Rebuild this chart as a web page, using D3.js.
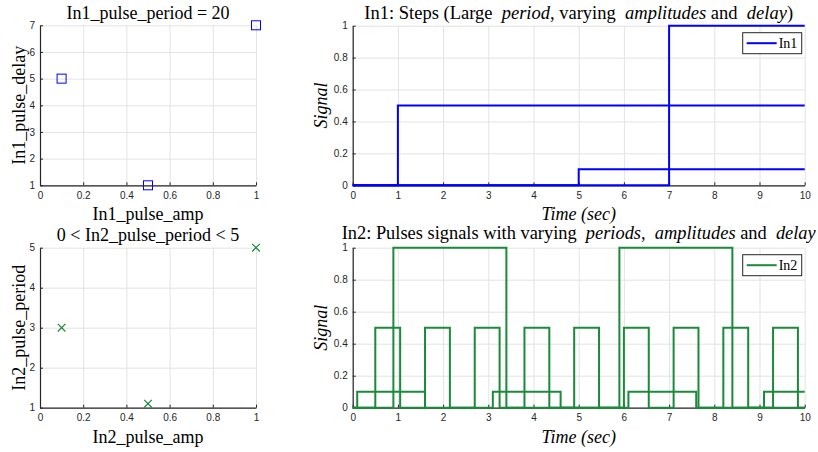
<!DOCTYPE html>
<html>
<head>
<meta charset="utf-8">
<script src="https://cdn.jsdelivr.net/npm/d3@7"></script>
<style>
  body { margin: 0; background: #fff; }
  .tick text { font-family: "Liberation Sans", Arial, sans-serif; font-size: 10px; fill: #262626; }
  .axis path, .axis line { stroke: #262626; }
  .grid line { stroke: #e3e3e3; }
  .grid path { display: none; }
  .serif { font-family: "Liberation Serif", "Times New Roman", serif; fill: #000; white-space: pre; }
</style>
</head>
<body>
<svg id="fig" width="818" height="452"></svg>
<script>
// scatter: pulse parameters
var in1Amp = [0.1, 0.5, 1];
var in1Delay = [5, 1, 7];
var in2Amp = [0.1, 0.5, 1];
var in2Period = [3, 1.1, 5];

// In1 step signals (time, value) pairs, step-after
var in1StepT = [[0, 1, 10], [0, 5, 10], [0, 7, 10]];
var in1StepV = [[0, 0.5, 0.5], [0, 0.1, 0.1], [0, 1, 1]];

// In2 pulse signals
var in2PulseT = [
  [0, 0.1, 1.6, 3.1, 4.6, 6.1, 7.6, 9.1, 10],
  [0, 0.5, 1.05, 1.6, 2.15, 2.7, 3.25, 3.8, 4.35, 4.9, 5.45, 6.0, 6.55, 7.1, 7.65, 8.2, 8.75, 9.3, 9.85, 10],
  [0, 0.9, 3.4, 5.9, 8.4, 10]
];
var in2PulseV = [
  [0, 0.1, 0, 0.1, 0, 0.1, 0, 0.1, 0.1],
  [0, 0.5, 0, 0.5, 0, 0.5, 0, 0.5, 0, 0.5, 0, 0.5, 0, 0.5, 0, 0.5, 0, 0.5, 0, 0],
  [0, 1, 0, 1, 0, 0]
];

var ampTicks = [0, 0.2, 0.4, 0.6, 0.8, 1];
var delayTicks = [1, 2, 3, 4, 5, 6, 7];
var periodTicks = [1, 2, 3, 4, 5];
var timeTicks = [0, 1, 2, 3, 4, 5, 6, 7, 8, 9, 10];
var signalTicks = [0, 0.2, 0.4, 0.6, 0.8, 1];

var blue = '#0000ff';
var green = '#1b8a3a';

var svg = d3.select('#fig');

function panel(p) {
  var x = d3.scaleLinear().domain(p.xd).range([p.x0, p.x1]);
  var y = d3.scaleLinear().domain(p.yd).range([p.y1, p.y0]);
  var g = svg.append('g');

  // grid
  g.append('g').attr('class', 'grid')
    .attr('transform', 'translate(0,' + p.y1 + ')')
    .call(d3.axisBottom(x).tickValues(p.xt).tickSize(-(p.y1 - p.y0)).tickFormat(''));
  g.append('g').attr('class', 'grid')
    .attr('transform', 'translate(' + p.x0 + ',0)')
    .call(d3.axisLeft(y).tickValues(p.yt).tickSize(-(p.x1 - p.x0)).tickFormat(''));

  // axes, ticks inward
  g.append('g').attr('class', 'axis')
    .attr('transform', 'translate(0,' + p.y1 + ')')
    .call(d3.axisBottom(x).tickValues(p.xt).tickSize(-3).tickSizeOuter(0).tickPadding(6.5).tickFormat(d3.format('')));
  g.append('g').attr('class', 'axis')
    .attr('transform', 'translate(' + p.x0 + ',0)')
    .call(d3.axisLeft(y).tickValues(p.yt).tickSize(-3).tickSizeOuter(0).tickPadding(5).tickFormat(d3.format('')));
  g.selectAll('.axis .domain').attr('stroke-width', 1.2);

  // title
  var t = g.append('text').attr('class', 'serif')
    .attr('x', (p.x0 + p.x1) / 2).attr('y', p.y0 - (p.titleGap || 6.5))
    .attr('text-anchor', 'middle').style('font-size', (p.titleSize || 18) + 'px');
  p.title.forEach(function(s) {
    t.append('tspan').text(s[0]).style('font-style', s[1] ? 'italic' : 'normal');
  });

  // x label
  g.append('text').attr('class', 'serif')
    .attr('x', (p.x0 + p.x1) / 2).attr('y', p.y1 + 35)
    .attr('text-anchor', 'middle').style('font-size', '18px')
    .style('font-style', p.italic ? 'italic' : 'normal')
    .text(p.xl);

  // y label
  g.append('text').attr('class', 'serif')
    .attr('transform', 'translate(' + p.ylx + ',' + ((p.y0 + p.y1) / 2) + ') rotate(-90)')
    .attr('text-anchor', 'middle').style('font-size', '18px')
    .style('font-style', p.italic ? 'italic' : 'normal')
    .text(p.yl);

  return {g: g, x: x, y: y};
}

function legend(pa, label, color) {
  var bx = pa.x.range()[1] - 62, by = pa.y.range()[1] + 7;
  var lg = pa.g.append('g');
  lg.append('rect').attr('x', bx).attr('y', by).attr('width', 59).attr('height', 21)
    .attr('fill', '#fff').attr('stroke', '#262626').attr('stroke-width', 1);
  lg.append('line').attr('x1', bx + 4).attr('x2', bx + 34)
    .attr('y1', by + 10.5).attr('y2', by + 10.5)
    .attr('stroke', color).attr('stroke-width', 2);
  lg.append('text').attr('class', 'serif').attr('x', bx + 36).attr('y', by + 15.5)
    .style('font-size', '14px').text(label);
}

// top-left scatter
var p1 = panel({x0: 40, x1: 256, y0: 25.3, y1: 185.3, xd: [0, 1], yd: [1, 7],
  xt: ampTicks, yt: delayTicks, xl: 'In1_pulse_amp', yl: 'In1_pulse_delay', ylx: 25,
  title: [['In1_pulse_period = 20', false]]});
p1.g.selectAll('.sq').data(in1Amp).enter().append('rect')
  .attr('x', function(d) { return p1.x(d) - 4.5; })
  .attr('y', function(d, i) { return p1.y(in1Delay[i]) - 4.5; })
  .attr('width', 9).attr('height', 9)
  .attr('fill', 'none').attr('stroke', blue).attr('stroke-width', 1);

// bottom-left scatter
var p2 = panel({x0: 40, x1: 256, y0: 247.7, y1: 407.7, xd: [0, 1], yd: [1, 5],
  xt: ampTicks, yt: periodTicks, xl: 'In2_pulse_amp', yl: 'In2_pulse_period', ylx: 25,
  title: [['0 < In2_pulse_period < 5', false]]});
var cross = d3.symbol().type(d3.symbolX).size(40);
p2.g.selectAll('.xm').data(in2Amp).enter().append('path')
  .attr('d', cross)
  .attr('transform', function(d, i) { return 'translate(' + p2.x(d) + ',' + p2.y(in2Period[i]) + ')'; })
  .attr('fill', 'none').attr('stroke', green).attr('stroke-width', 1.2);

// top-right steps
var p3 = panel({x0: 352.7, x1: 804.7, y0: 25.7, y1: 185.3, xd: [0, 10], yd: [0, 1],
  xt: timeTicks, yt: signalTicks, xl: 'Time (sec)', yl: 'Signal', ylx: 327, italic: true,
  titleSize: 18.5,
  title: [['In1: Steps (Large  ', false], ['period', true], [', varying  ', false],
          ['amplitudes', true], [' and  ', false], ['delay', true], [')', false]]});
var line3 = d3.line().x(function(d) { return p3.x(d[0]); }).y(function(d) { return p3.y(d[1]); })
  .curve(d3.curveStepAfter);
in1StepT.forEach(function(ts, k) {
  p3.g.append('path').datum(ts.map(function(t, i) { return [t, in1StepV[k][i]]; }))
    .attr('d', line3).attr('fill', 'none').attr('stroke', blue).attr('stroke-width', 2);
});
legend(p3, 'In1', blue);

// bottom-right pulses
var p4 = panel({x0: 352.7, x1: 804.7, y0: 247.7, y1: 407.7, xd: [0, 10], yd: [0, 1],
  xt: timeTicks, yt: signalTicks, xl: 'Time (sec)', yl: 'Signal', ylx: 327, italic: true,
  titleSize: 18.4, titleGap: 9,
  title: [['In2: Pulses signals with varying  ', false], ['periods', true], [',  ', false],
          ['amplitudes', true], [' and  ', false], ['delay', true]]});
var line4 = d3.line().x(function(d) { return p4.x(d[0]); }).y(function(d) { return p4.y(d[1]); })
  .curve(d3.curveStepAfter);
in2PulseT.forEach(function(ts, k) {
  p4.g.append('path').datum(ts.map(function(t, i) { return [t, in2PulseV[k][i]]; }))
    .attr('d', line4).attr('fill', 'none').attr('stroke', green).attr('stroke-width', 2);
});
legend(p4, 'In2', green);
</script>
</body>
</html>
